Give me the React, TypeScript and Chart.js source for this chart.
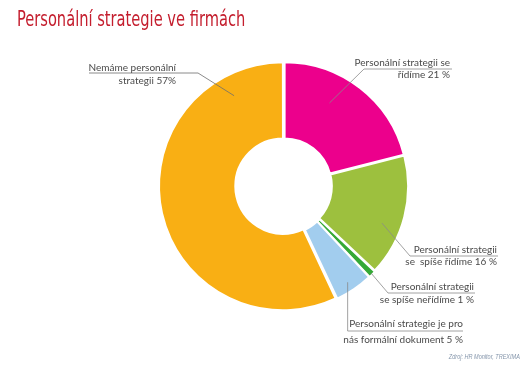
import React, { useEffect, useRef } from 'react';
import { Chart, registerables } from 'chart.js';

Chart.register(...registerables);

const TITLE = 'Personální strategie ve firmách';
const SOURCE = 'Zdroj: HR Monitor, TREXIMA';

const categories = [
  'Personální strategii se řídíme',
  'Personální strategii se spíše řídíme',
  'Personální strategii se spíše neřídíme',
  'Personální strategie je pro nás formální dokument',
  'Nemáme personální strategii',
];
const values = [21, 16, 1, 5, 57];
const colors = ['#EC008C', '#9DC03E', '#35A936', '#A2CDEE', '#F9AF14'];
const labelLines = [
  ['Personální strategii se', 'řídíme 21 %'],
  ['Personální strategii', 'se  spíše řídíme 16 %'],
  ['Personální strategii', 'se spíše neřídíme 1 %'],
  ['Personální strategie je pro', 'nás formální dokument 5 %'],
  ['Nemáme personální', 'strategii 57%'],
];

// callout layout: t = angular fraction inside slice, f = radial fraction inside ring
const callouts = [
  { t: 0.38, f: 0.63, ex: 364, ey: 69, endX: 452, textX: 450, y1: 63, y2: 75, vertical: false },
  { t: 0.61, f: 0.76, ex: 410, ey: 256, endX: 498, textX: 497, y1: 250, y2: 262, vertical: false },
  { t: 0.5, f: 1.0, ex: 388, ey: 293, endX: 475, textX: 474, y1: 287, y2: 300, vertical: false },
  { t: 0.54, f: 0.9, ex: 0, ey: 331, endX: 463, textX: 463, y1: 324, y2: 340, vertical: true },
  { t: 0.859, f: 0.74, ex: 198, ey: 73, endX: 89, textX: 176, y1: 68, y2: 81, vertical: false },
];

const calloutPlugin = {
  id: 'callouts',
  afterDraw(chart: any) {
    const ctx = chart.ctx as CanvasRenderingContext2D;
    const meta = chart.getDatasetMeta(0);
    ctx.save();
    meta.data.forEach((arc: any, i: number) => {
      const c = callouts[i];
      if (!c) return;
      const { x, y, startAngle, endAngle, innerRadius, outerRadius } = arc.getProps(
        ['x', 'y', 'startAngle', 'endAngle', 'innerRadius', 'outerRadius'],
        true
      );
      const a = startAngle + c.t * (endAngle - startAngle);
      const r = innerRadius + c.f * (outerRadius - innerRadius);
      const ax = x + Math.cos(a) * r;
      const ay = y + Math.sin(a) * r;
      const ex = c.vertical ? ax : c.ex;
      ctx.strokeStyle = i === 4 ? '#6d6d6d' : '#8a8a8a';
      ctx.lineWidth = 0.8;
      ctx.beginPath();
      ctx.moveTo(ax, ay);
      ctx.lineTo(ex, c.ey);
      ctx.lineTo(c.endX, c.ey);
      ctx.stroke();
      ctx.fillStyle = '#4a4a4a';
      ctx.font = '10px Lato, "Open Sans", sans-serif';
      ctx.textAlign = 'right';
      ctx.textBaseline = 'middle';
      ctx.fillText(labelLines[i][0], c.textX, c.y1);
      ctx.fillText(labelLines[i][1], c.textX, c.y2);
    });
    ctx.restore();
  },
};

export default function App() {
  const ref = useRef<HTMLCanvasElement | null>(null);
  useEffect(() => {
    document.body.style.margin = '0';
    if (!ref.current) return;
    const chart = new Chart(ref.current, {
      type: 'doughnut',
      data: {
        labels: categories,
        datasets: [
          {
            data: values,
            backgroundColor: colors,
            borderColor: '#ffffff',
            borderWidth: 2,
            offset: 4,
            radius: 123,
            cutout: '38%',
          } as any,
        ],
      },
      options: {
        responsive: false,
        animation: false,
        layout: { padding: { left: 38, right: 0, top: 5, bottom: 0 } },
        plugins: {
          legend: { display: false },
          tooltip: { enabled: false },
          title: { display: false },
        },
      } as any,
      plugins: [calloutPlugin],
    });
    return () => chart.destroy();
  }, []);

  return (
    <div style={{ position: 'absolute', left: 0, top: 0, width: 530, height: 367, background: '#fff' }}>
      <canvas ref={ref} width={530} height={367} style={{ position: 'absolute', left: 0, top: 0 }} />
      <div
        style={{
          position: 'absolute',
          left: 17,
          top: 8,
          fontFamily: '"Liberation Sans Narrow", "DejaVu Sans Condensed", sans-serif',
          fontSize: 22,
          lineHeight: '22px',
          color: '#C41E2E',
          whiteSpace: 'nowrap',
          transform: 'scaleX(0.74)',
          transformOrigin: 'left top',
        }}
      >
        {TITLE}
      </div>
      <div
        style={{
          position: 'absolute',
          right: 10,
          top: 353,
          fontFamily: '"Liberation Sans Narrow", sans-serif',
          fontStyle: 'italic',
          fontSize: 7,
          lineHeight: '8px',
          color: '#8596AB',
          whiteSpace: 'nowrap',
          transform: 'scaleX(0.79)',
          transformOrigin: 'right top',
        }}
      >
        {SOURCE}
      </div>
    </div>
  );
}
